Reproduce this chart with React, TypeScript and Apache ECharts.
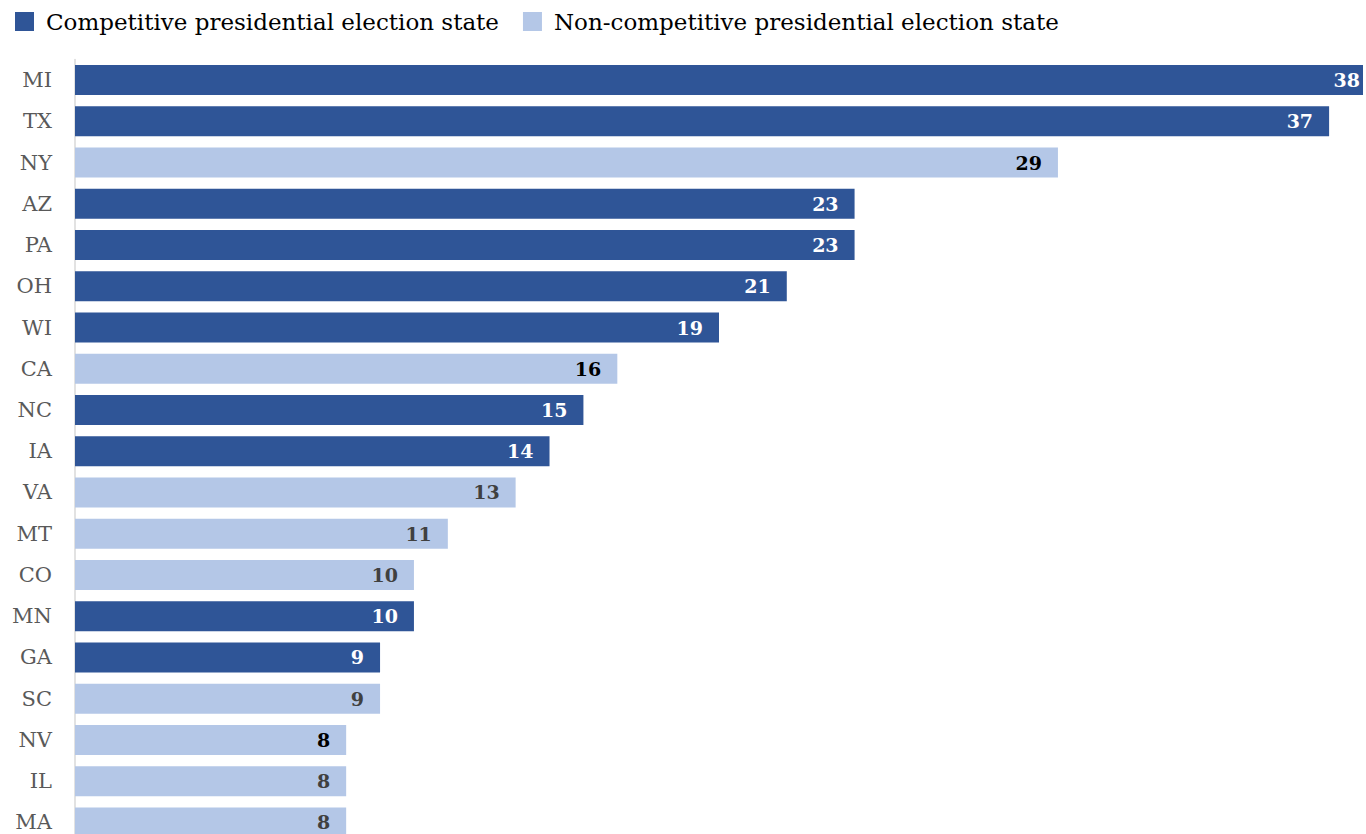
import React, { useEffect, useRef } from "react";
import * as echarts from "echarts";

const states = ["MI", "TX", "NY", "AZ", "PA", "OH", "WI", "CA", "NC", "IA", "VA", "MT", "CO", "MN", "GA", "SC", "NV", "IL", "MA"];
const values = [38, 37, 29, 23, 23, 21, 19, 16, 15, 14, 13, 11, 10, 10, 9, 9, 8, 8, 8];
const competitive = [true, true, false, true, true, true, true, false, true, true, false, false, false, true, true, false, false, false, false];
const lightLabelColors = ["#404040", "#404040", "#000000", "#404040", "#404040", "#404040", "#404040", "#000000", "#404040", "#404040", "#404040", "#404040", "#404040", "#404040", "#404040", "#404040", "#000000", "#404040", "#404040"];
const seriesNames = ["Competitive presidential election state", "Non-competitive presidential election state"];

const DARK = "#2F5597";
const LIGHT = "#B4C7E7";
const FONT = "'DejaVu Serif', 'Liberation Serif', serif";

export default function App() {
  const ref = useRef<HTMLDivElement>(null);
  useEffect(() => {
    if (!ref.current) return;
    const chart = echarts.init(ref.current, undefined, { renderer: "svg" });
    const mk = (isComp: boolean) =>
      values.map((v, i) => {
        if (competitive[i] !== isComp) return null;
        return {
          value: v,
          label: {
            color: isComp ? "#ffffff" : lightLabelColors[i],
            distance: i === 0 ? 3 : 16,
          },
        };
      });
    const labelCfg = { show: true, position: "insideRight", fontWeight: "bold", fontSize: 19, fontFamily: FONT };
    chart.setOption({
      animation: false,
      textStyle: { fontFamily: FONT },
      legend: {
        left: 15,
        top: 10,
        padding: 0,
        itemWidth: 19,
        itemHeight: 19,
        itemGap: 24,
        icon: "rect",
        textStyle: { fontSize: 23, color: "#000", fontFamily: FONT, padding: [0, 0, 0, 7] },
        data: seriesNames,
      },
      grid: { left: 75, right: 3, top: 59.5, bottom: 0, containLabel: false },
      xAxis: { type: "value", min: 0, max: 38, show: false },
      yAxis: {
        type: "category",
        data: states,
        inverse: true,
        axisTick: { show: false },
        axisLine: { show: true, lineStyle: { color: "#d9d9d9", width: 1.5 } },
        axisLabel: { fontSize: 21, color: "#595959", margin: 23, fontFamily: FONT },
      },
      series: [
        {
          name: seriesNames[0],
          type: "bar",
          barWidth: 30,
          barGap: "-100%",
          itemStyle: { color: DARK },
          label: labelCfg,
          data: mk(true),
        },
        {
          name: seriesNames[1],
          type: "bar",
          barWidth: 30,
          barGap: "-100%",
          itemStyle: { color: LIGHT },
          label: labelCfg,
          data: mk(false),
        },
      ],
    });
    return () => chart.dispose();
  }, []);
  return <div ref={ref} style={{ position: "fixed", left: 0, top: 0, width: 1366, height: 843, background: "#fff" }} />;
}
